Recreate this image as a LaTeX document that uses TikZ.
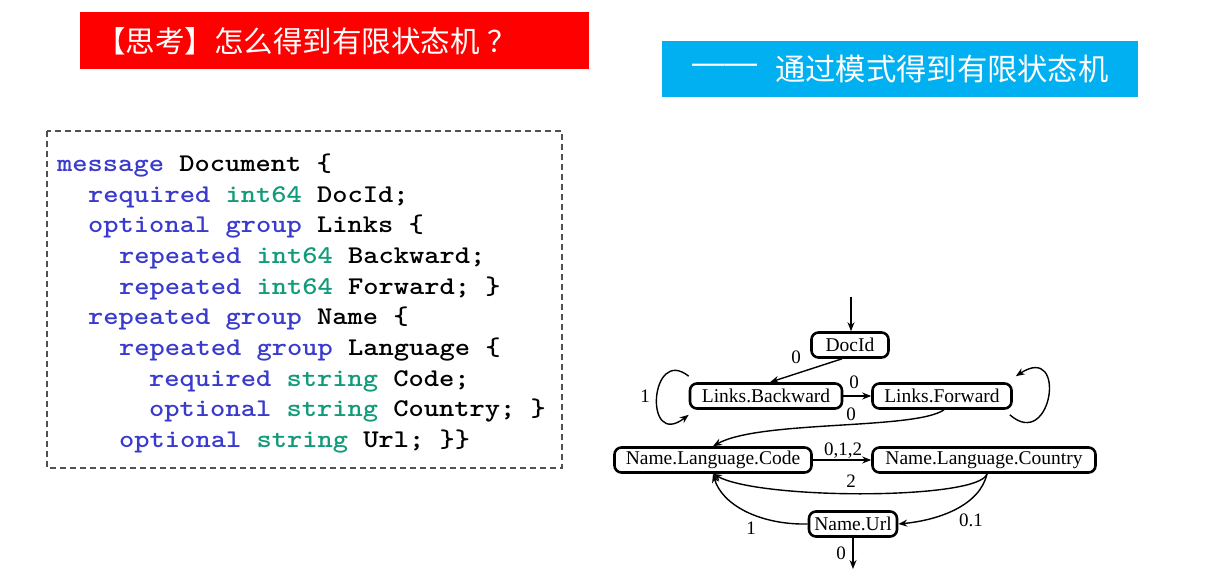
\documentclass[tikz,border=0pt]{standalone}
\usepackage{fontspec}
\setmainfont{Liberation Serif}
\newfontfamily\cjk{Noto Sans CJK SC}
\newfontfamily\dashfont{Liberation Sans}
\usetikzlibrary{arrows.meta}
\definecolor{titlered}{RGB}{255,0,0}
\definecolor{titleblue}{RGB}{0,176,240}
\definecolor{kwblue}{RGB}{58,58,205}
\definecolor{typegreen}{RGB}{18,155,122}
\definecolor{framegray}{RGB}{80,80,80}
\newcommand{\kw}[1]{\textcolor{kwblue}{#1}}
\newcommand{\ty}[1]{\textcolor{typegreen}{#1}}
% monospaced listing line, widened to the Courier pitch
\newcommand{\codetext}[1]{\scalebox{1.14}[1]{#1}}
\tikzset{
  banner/.style={inner sep=0pt, anchor=north west},
  codeline/.style={anchor=base west, inner sep=0pt, font=\ttfamily\bfseries\fontsize{25.5}{26}\selectfont},
  state/.style={draw, line width=2.6pt, rounded corners=7pt, minimum height=25pt,
    inner sep=0pt, font=\fontsize{19.5}{20}\selectfont},
  edge/.style={line width=1.4pt, -{Stealth[length=9pt,width=7pt,inset=3pt]}},
  lbl/.style={font=\fontsize{19}{20}\selectfont, inner sep=0pt}
}
\begin{document}
\begin{tikzpicture}[x=1pt,y=-1pt]
\useasboundingbox (0,0) rectangle (1218,574);

% headline banners
\node[banner, fill=titlered, minimum width=509pt, minimum height=57pt] (qbox) at (80,12) {};
\node[anchor=west, text=white, font=\cjk\fontsize{29.5}{30}\selectfont, inner sep=0pt] (qtext) at (96,41) {【思考】怎么得到有限状态机\hspace{8pt}？};
\node[banner, fill=titleblue, minimum width=476pt, minimum height=56pt] (abox) at (662,41) {};
\node[anchor=west, text=white, font=\dashfont\fontsize{32.5}{33}\selectfont, inner sep=0pt] (adash) at (692,69) {——};
\node[anchor=west, text=white, font=\cjk\fontsize{30.3}{31}\selectfont, inner sep=0pt] (atext) at (775,69) {通过模式得到有限状态机};

% schema listing
\draw[framegray, line width=1.3pt, dash pattern=on 6pt off 4pt] (47,131) rectangle (562,468);
\node[codeline] (l1) at (57,171) {\codetext{\kw{message} Document \{}};
\node[codeline] (l2) at (88,202) {\codetext{\kw{required} \ty{int64} DocId;}};
\node[codeline] (l3) at (88,232) {\codetext{\kw{optional} \kw{group} Links \{}};
\node[codeline] (l4) at (119,263) {\codetext{\kw{repeated} \ty{int64} Backward;}};
\node[codeline] (l5) at (119,294) {\codetext{\kw{repeated} \ty{int64} Forward; \}}};
\node[codeline] (l6) at (88,324) {\codetext{\kw{repeated} \kw{group} Name \{}};
\node[codeline] (l7) at (119,355) {\codetext{\kw{repeated} \kw{group} Language \{}};
\node[codeline] (l8) at (149,386) {\codetext{\kw{required} \ty{string} Code;}};
\node[codeline] (l9) at (149,416) {\codetext{\kw{optional} \ty{string} Country; \}}};
\node[codeline] (l10) at (119,447) {\codetext{\kw{optional} \ty{string} Url; \}\}}};

% record-assembly automaton
\node[state, minimum width=77pt] (doc) at (850,345) {DocId};
\node[state, minimum width=152pt] (back) at (766,396) {Links.Backward};
\node[state, minimum width=139pt] (fwd) at (942,396) {Links.Forward};
\node[state, minimum width=197pt] (code) at (713,460) {Name.Language.Code};
\node[state, minimum width=223pt] (ctry) at (984,460) {Name.Language.Country};
\node[state, minimum width=88pt] (url) at (853,524) {Name.Url};

\coordinate (start) at (851,297);
\coordinate (stop) at (853,569);

\draw[edge] (start) -- (doc.north -| start);
\draw[edge] ([xshift=-8pt]doc.south) -- ([xshift=4pt]back.north);
\node[lbl] (l0a) at (796,357) {0};

\draw[edge] ([yshift=6pt]back.north west) .. controls (650,345) and (643,450) .. ([yshift=-5pt]back.south west);
\node[lbl] (l1a) at (645,396) {1};

\draw[edge] (back.east) -- (fwd.west);
\node[lbl] (l0b) at (854,382) {0};

\draw[edge] ([xshift=-3pt,yshift=-5pt]fwd.south east) .. controls (1052,452) and (1068,342) .. ([xshift=3pt,yshift=6pt]fwd.north east);

\draw[edge] ([xshift=2pt]fwd.south) .. controls (915,430) and (760,420) .. (code.north);
\node[lbl] (l0c) at (851,414) {0};

\draw[edge] (code.east) -- (ctry.west);
\node[lbl] (l012) at (843,451) {0,1,2};

\draw[edge] ([xshift=3pt]ctry.south) .. controls (980,500) and (760,500) .. (code.south);
\node[lbl] (l2a) at (851,481) {2};

\draw[edge] ([xshift=3pt]ctry.south) .. controls (980,505) and (940,520) .. (url.east);
\node[lbl] (l01) at (971,520) {0.1};

\draw[edge] (url.west) .. controls (760,525) and (722,505) .. (code.south);
\node[lbl] (l1b) at (751,528) {1};

\draw[edge] (url.south) -- (stop);
\node[lbl] (l0d) at (841,553) {0};
\end{tikzpicture}
\end{document}
